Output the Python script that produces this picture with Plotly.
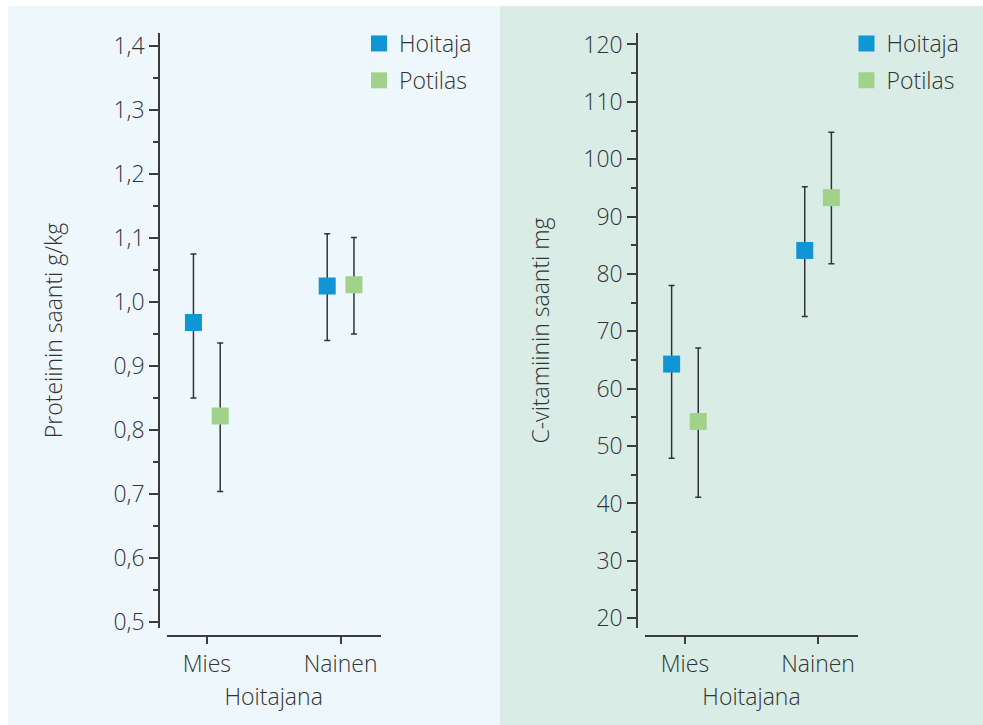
import plotly.graph_objects as go

# ---------------- data ----------------
categories = ["Mies", "Nainen"]
series_names = ["Hoitaja", "Potilas"]

# Proteiinin saanti g/kg
protein_hoitaja = [0.968, 1.025]
protein_hoitaja_lo = [0.850, 0.940]
protein_hoitaja_hi = [1.075, 1.107]
protein_potilas = [0.822, 1.027]
protein_potilas_lo = [0.704, 0.950]
protein_potilas_hi = [0.936, 1.101]

# C-vitamiinin saanti mg
vitc_hoitaja = [64.3, 84.1]
vitc_hoitaja_lo = [47.9, 72.6]
vitc_hoitaja_hi = [78.0, 95.2]
vitc_potilas = [54.3, 93.3]
vitc_potilas_lo = [41.1, 81.8]
vitc_potilas_hi = [67.1, 104.7]

# ---------------- styles ----------------
W, H = 983, 725
BLUE = "#1196D5"
GREEN = "#A1D28A"
AXC = "#3c3c3c"
TXT = "#333333"
ERRC = "#333333"
BG_LEFT = "#EEF8FC"
BG_RIGHT = "#D9EDE6"
FONT = "Open Sans"
FS = 23
FW = 300
GROUP_OFFSET = {"Hoitaja": -0.1, "Potilas": 0.1}


def px_x(p):
    return p / W


def px_y(p):
    return 1 - p / H


def fnt():
    return dict(family=FONT, size=FS, color=TXT, weight=FW)


fig = go.Figure()


def add_series(name, means, lo, hi, color, xa, ya, legend, show):
    xs = [i + GROUP_OFFSET[name] for i in range(len(categories))]
    fig.add_trace(go.Scatter(
        x=xs, y=means, mode="markers", name=name,
        marker=dict(symbol="square", size=17, color=color, line=dict(width=0)),
        error_y=dict(type="data", symmetric=False,
                     array=[h - m for h, m in zip(hi, means)],
                     arrayminus=[m - l for m, l in zip(means, lo)],
                     color=ERRC, thickness=1.5, width=3),
        xaxis=xa, yaxis=ya, legend=legend, showlegend=show,
        legendgroup=legend + name,
        hoverinfo="skip",
    ))


add_series("Hoitaja", protein_hoitaja, protein_hoitaja_lo, protein_hoitaja_hi, BLUE, "x", "y", "legend", True)
add_series("Potilas", protein_potilas, protein_potilas_lo, protein_potilas_hi, GREEN, "x", "y", "legend", True)
add_series("Hoitaja", vitc_hoitaja, vitc_hoitaja_lo, vitc_hoitaja_hi, BLUE, "x2", "y2", "legend2", True)
add_series("Potilas", vitc_potilas, vitc_potilas_lo, vitc_potilas_hi, GREEN, "x2", "y2", "legend2", True)

ydom = [px_y(628), px_y(33)]
xpos = px_y(635.7)

common_x = dict(
    anchor="free", position=xpos, range=[-0.3, 1.3], automargin=False,
    tickmode="array", tickvals=list(range(len(categories))), ticktext=categories,
    ticks="outside", ticklen=8, tickwidth=1.5, tickcolor=AXC,
    showline=True, linecolor=AXC, linewidth=1.5,
    showgrid=False, zeroline=False,
    tickfont=fnt(),
)
common_y = dict(
    domain=ydom, anchor="free", automargin=False,
    ticks="outside", ticklen=9, tickwidth=1.5, tickcolor=AXC,
    showline=True, linecolor=AXC, linewidth=1.5,
    showgrid=False, zeroline=False,
    tickfont=fnt(),
)

legend_common = dict(xanchor="left", yanchor="top", bgcolor="rgba(0,0,0,0)",
                     tracegroupgap=4, traceorder="grouped",
                     font=fnt())

fig.update_layout(
    template="none",
    width=W, height=H, autosize=False,
    margin=dict(l=0, r=0, t=0, b=0, pad=0, autoexpand=False),
    paper_bgcolor="white", plot_bgcolor="rgba(0,0,0,0)",
    separators=", ",
    font=fnt(),
    xaxis=dict(common_x, domain=[px_x(166.7), px_x(380.7)],
               title=dict(text="Hoitajana", font=fnt(), standoff=10)),
    yaxis=dict(common_y, position=px_x(159), range=[0.4906, 1.4206],
               tick0=0.5, dtick=0.1, tickformat=".1f",
               minor=dict(dtick=0.05, tick0=0.5, ticks="outside", ticklen=5, tickwidth=1.5, tickcolor=AXC),
               title=dict(text="Proteiinin saanti g/kg", font=fnt(), standoff=43)),
    xaxis2=dict(common_x, domain=[px_x(645), px_x(858)],
                title=dict(text="Hoitajana", font=fnt(), standoff=10)),
    yaxis2=dict(common_y, position=px_x(637), range=[18.3, 122.0],
                tick0=20, dtick=10,
                minor=dict(dtick=5, tick0=20, ticks="outside", ticklen=5, tickwidth=1.5, tickcolor=AXC),
                title=dict(text="C-vitamiinin saanti mg", font=fnt(), standoff=26)),
    legend=dict(legend_common, x=px_x(359), y=px_y(22)),
    legend2=dict(legend_common, x=px_x(846.5), y=px_y(22)),
    shapes=[
        dict(type="rect", xref="paper", yref="paper", x0=px_x(8), x1=px_x(500), y0=0, y1=px_y(6),
             fillcolor=BG_LEFT, line=dict(width=0), layer="below"),
        dict(type="rect", xref="paper", yref="paper", x0=px_x(500), x1=1, y0=0, y1=px_y(6),
             fillcolor=BG_RIGHT, line=dict(width=0), layer="below"),
    ],
)

post = (
    "var gd=document.getElementById('{plot_id}');"
    "var p=gd.parentElement;p.style.height='725px';p.style.width='983px';p.style.overflow='hidden';"
    "p.style.margin='0';p.style.padding='0';"
    "var r=document.documentElement;r.style.margin='0';r.style.padding='0';r.style.overflow='hidden';"
    "var b=document.body;b.style.margin='0';b.style.padding='0';b.style.overflow='hidden';"
)

fig.write_html("out.html", config={"displayModeBar": False}, post_script=post)
